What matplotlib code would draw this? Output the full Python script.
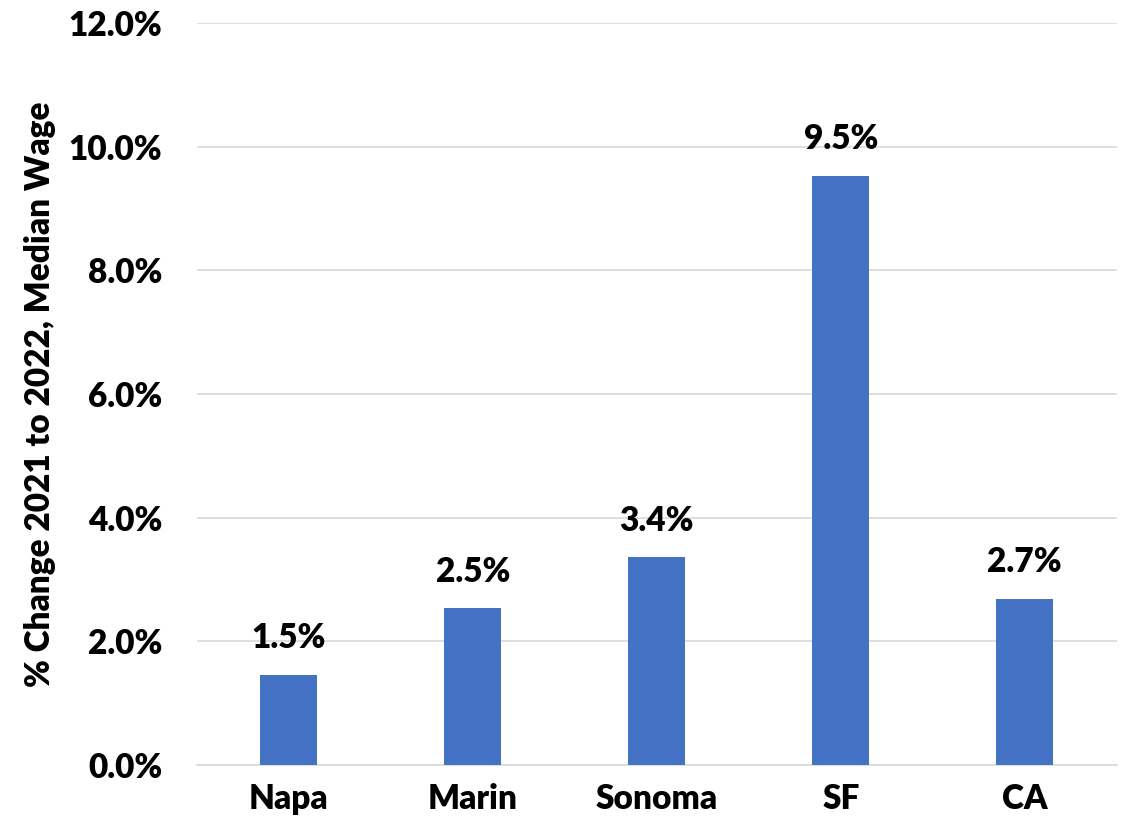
import matplotlib
matplotlib.use("Agg")
import matplotlib.pyplot as plt
from matplotlib.ticker import FuncFormatter

categories = ["Napa", "Marin", "Sonoma", "SF", "CA"]
values = [1.46, 2.54, 3.36, 9.53, 2.69]
labels = ["1.5%", "2.5%", "3.4%", "9.5%", "2.7%"]

plt.rcParams['font.family'] = ['Lato', 'DejaVu Sans']
FS = 24
FW = "heavy"

fig = plt.figure(figsize=(11.28, 8.32), dpi=100)
ax = fig.add_axes([0.1746, 0.0805, 0.8154, 0.8919])

ax.bar(range(len(categories)), values, width=0.31, color="#4472C4", zorder=3)
for i, (v, t) in enumerate(zip(values, labels)):
    ax.text(i, v + 0.33, t, ha="center", va="bottom", fontsize=FS, fontweight=FW)

ax.set_xlim(-0.5, 4.5)
ax.set_ylim(0, 12)
ax.set_yticks([0, 2, 4, 6, 8, 10, 12])
ax.yaxis.set_major_formatter(FuncFormatter(lambda y, p: f"{y:.1f}%"))
ax.set_xticks(range(len(categories)))
ax.set_xticklabels(categories)
for lab in ax.get_xticklabels() + ax.get_yticklabels():
    lab.set_fontsize(FS)
    lab.set_fontweight(FW)
ax.tick_params(axis="both", length=0)
ax.tick_params(axis="y", pad=25)
ax.tick_params(axis="x", pad=13)
ax.grid(axis="y", color="#D9D9D9", linewidth=1.2, zorder=0)
for s in ["top", "right", "left"]:
    ax.spines[s].set_visible(False)
ax.spines["bottom"].set_color("#D9D9D9")
ax.spines["bottom"].set_linewidth(1.2)
ax.set_ylabel("% Change 2021 to 2022, Median Wage", fontsize=FS, fontweight=FW, labelpad=9)

fig.savefig("out.png", dpi=100)
